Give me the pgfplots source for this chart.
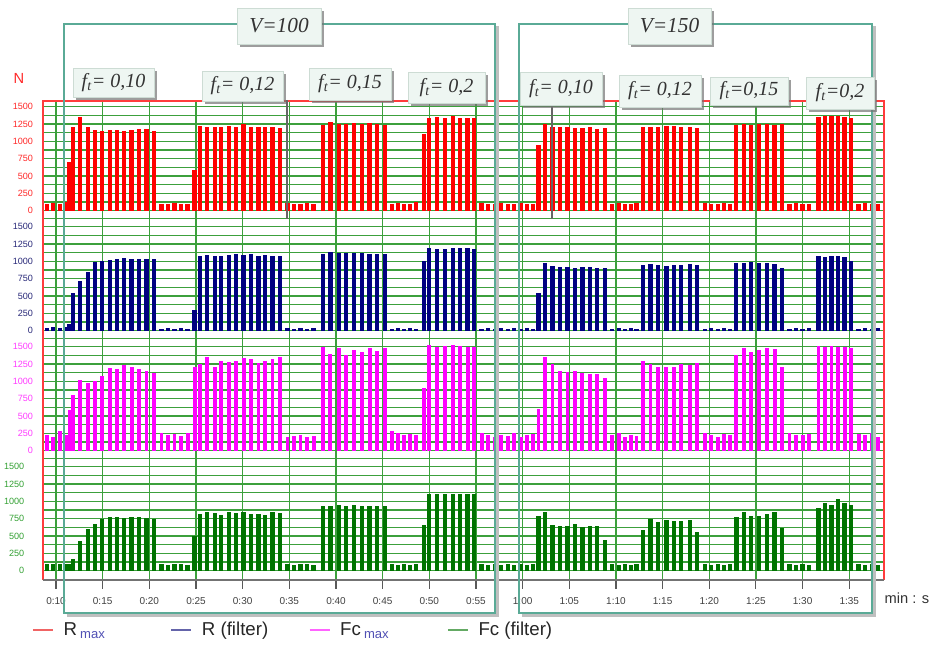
\documentclass[border=0pt]{standalone}
\usepackage{pgfplots}
\pgfplotsset{compat=1.18}
\usepackage{pgfplotstable}
\usepackage{fontspec}
\setmainfont{Liberation Sans}
\newfontfamily\tnr{Liberation Serif}
\usetikzlibrary{shadows}

\definecolor{cR}{RGB}{255,0,0}
\definecolor{cB}{RGB}{0,0,128}
\definecolor{cM}{RGB}{255,0,255}
\definecolor{cG}{RGB}{0,115,0}
\definecolor{cGrid}{RGB}{60,160,60}
\definecolor{cTeal}{RGB}{90,170,150}
\definecolor{cFrame}{RGB}{255,60,60}
\definecolor{tR}{RGB}{255,40,40}
\definecolor{tB}{RGB}{40,40,120}
\definecolor{tM}{RGB}{255,60,255}
\definecolor{tG}{RGB}{50,160,50}
\definecolor{lR}{RGB}{240,100,100}
\definecolor{lB}{RGB}{100,100,170}
\definecolor{lM}{RGB}{255,100,255}
\definecolor{lG}{RGB}{100,170,100}
\definecolor{subC}{RGB}{80,80,180}
\definecolor{boxF}{RGB}{238,246,242}
\definecolor{boxD}{RGB}{205,220,212}

% t = time in s; R = R max, Rf = R (filter), Fc = Fc max, Fcf = Fc (filter), in N
\pgfplotstableread{
t R Rf Fc Fcf
9.0 100 40 220 90
9.7 110 50 200 90
10.4 90 40 280 100
11.1 120 50 230 90
11.45 700 100 580 100
11.8 1200 550 800 170
12.6 1350 720 1020 430
13.4 1200 850 980 600
14.2 1170 990 1010 680
14.95 1150 1000 1080 750
15.75 1160 1020 1190 780
16.5 1170 1040 1180 770
17.3 1150 1050 1230 760
18.1 1160 1040 1200 770
18.9 1175 1030 1180 780
19.7 1180 1040 1150 760
20.5 1150 1030 1120 740
21.3 100 30 250 90
22.0 90 40 220 80
22.7 110 30 240 90
23.4 100 40 210 90
24.1 100 30 260 80
24.85 580 300 1200 500
25.4 1220 1080 1250 820
26.2 1200 1090 1350 850
27.0 1210 1070 1200 830
27.7 1200 1080 1300 800
28.5 1220 1090 1280 840
29.3 1200 1100 1300 830
30.1 1250 1090 1340 850
30.9 1210 1100 1320 820
31.7 1200 1080 1260 820
32.4 1210 1090 1300 810
33.2 1200 1080 1320 840
34.0 1190 1080 1350 830
34.8 110 40 200 90
35.5 100 30 210 80
36.2 90 40 230 90
36.9 110 30 200 90
37.6 100 40 210 80
38.6 1230 1110 1500 930
39.4 1280 1140 1400 940
40.3 1250 1120 1480 950
41.1 1250 1120 1380 940
41.9 1260 1120 1450 950
42.8 1250 1120 1420 940
43.6 1270 1110 1480 930
44.4 1250 1110 1440 940
45.25 1240 1100 1480 930
46.0 100 30 280 90
46.65 110 40 250 80
47.3 90 30 220 90
47.95 100 40 240 80
48.6 120 30 230 90
49.4 1100 1000 900 660
50.0 1340 1190 1520 1110
50.8 1350 1180 1500 1100
51.7 1330 1180 1510 1110
52.5 1370 1190 1520 1110
53.3 1340 1190 1510 1110
54.1 1340 1190 1500 1100
54.8 1330 1180 1500 1100
55.6 110 30 250 90
56.3 100 40 220 80
57.0 90 30 200 90
57.7 110 40 230 80
58.4 100 30 210 90
59.1 100 40 250 80
59.8 110 30 200 90
60.5 90 40 230 80
61.1 100 30 240 90
61.7 950 540 600 790
62.4 1250 970 1350 850
63.2 1200 930 1250 660
64.0 1200 920 1150 650
64.8 1200 920 1130 650
65.6 1190 910 1150 680
66.4 1190 920 1120 630
67.2 1200 920 1100 650
68.0 1180 910 1100 640
68.8 1190 900 1050 440
69.6 100 30 220 90
70.3 110 40 250 80
71.0 90 30 200 90
71.6 100 40 230 80
72.2 110 30 210 90
72.9 1200 950 1300 590
73.7 1210 960 1250 740
74.5 1200 950 1200 700
75.4 1220 940 1200 730
76.2 1220 950 1210 710
77.0 1210 950 1250 710
77.9 1200 960 1230 730
78.7 1190 950 1260 560
79.5 110 30 250 90
80.2 100 40 220 80
80.9 90 30 200 90
81.6 110 40 240 80
82.2 100 30 230 90
82.9 1240 970 1380 780
83.7 1250 980 1480 840
84.5 1240 990 1420 790
85.3 1250 980 1450 790
86.2 1250 970 1480 820
87.0 1240 960 1460 840
87.8 1250 910 1200 610
88.6 100 30 250 90
89.3 110 40 230 80
90.0 90 30 220 90
90.7 100 40 240 80
91.7 1350 1070 1510 900
92.4 1360 1060 1500 970
93.1 1370 1070 1510 950
93.8 1370 1080 1500 1030
94.5 1350 1060 1500 970
95.2 1340 1000 1480 950
96.0 100 30 240 90
96.7 110 40 220 80
97.4 90 30 250 90
98.1 100 40 200 80
}\sig

\pgfplotsset{
 panel/.style={
  scale only axis, width=630.75pt, anchor=south west,
  xmin=8.607, xmax=98.72,
  xtick={10,15,...,95},
  ytick={0,250,...,1500},
  axis line style={draw=none},
  grid=both,
  major grid style={draw=cGrid, line width=1.05pt},
  minor grid style={draw=cGrid, line width=1.05pt},
  ytick style={draw=none},
  yticklabel style={font=\fontsize{6.8}{8}\selectfont, xshift=-4pt},
  /pgf/number format/1000 sep={},
  /pgf/number format/assume math mode=true,
 },
 upper/.style={xticklabels={}, xtick style={draw=none}},
}

\tikzset{
 fbox/.style={draw=boxD, fill=boxF, line width=0.6pt, inner sep=0pt,
   drop shadow={shadow xshift=2pt, shadow yshift=-2pt, fill=black!55, opacity=0.7},
   font=\tnr\itshape\fontsize{15}{17}\selectfont, text=black!80},
}

\begin{document}
\begin{tikzpicture}
\path[use as bounding box] (0pt,0pt) rectangle (697.5pt,-483.75pt);

% R max
\begin{axis}[panel, upper, at={(32.25pt,-164.01pt)}, height=88.28pt,
  ymin=-115, ymax=1582, minor ytick={-115,125,375,625,875,1125,1375},
  yticklabel style={text=tR}]
\addplot[ycomb, draw=cR, line width=3.2pt, mark=none] table[x=t,y=R]{\sig};
\end{axis}

% R (filter)
\begin{axis}[panel, upper, at={(32.25pt,-254.01pt)}, height=90pt,
  ymin=-115, ymax=1615, minor ytick={-115,125,375,625,875,1125,1375},
  yticklabel style={text=tB}]
\addplot[ycomb, draw=cB, line width=3.2pt, mark=none] table[x=t,y=Rf]{\sig};
\end{axis}

% Fc max
\begin{axis}[panel, upper, at={(32.25pt,-344.01pt)}, height=90pt,
  ymin=-115, ymax=1615, minor ytick={-115,125,375,625,875,1125,1375},
  yticklabel style={text=tM}]
\addplot[ycomb, draw=cM, line width=2.9pt, mark=none] table[x=t,y=Fc]{\sig};
\end{axis}

% Fc (filter)
\begin{axis}[panel, at={(32.25pt,-435pt)}, height=90.99pt,
  ymin=-134, ymax=1615, minor ytick={125,375,625,875,1125,1375},
  yticklabel style={text=tG},
  xticklabels={0:10,0:15,0:20,0:25,0:30,0:35,0:40,0:45,0:50,0:55,1:00,1:05,1:10,1:15,1:20,1:25,1:30,1:35},
  xtick pos=bottom, tick align=outside, major tick length=6.5pt,
  xtick style={draw=black!65, line width=0.8pt},
  xticklabel style={font=\fontsize{7.5}{9}\selectfont, text=black!75, yshift=-2pt,
    anchor=north, text height=6pt, text depth=0pt},
  legend columns=4,
  legend image code/.code={\draw[#1] (0pt,0pt) -- (15pt,0pt);},
  legend style={draw=none, fill=none, at={(-0.0131,-0.412)}, anchor=west,
    inner sep=0pt, font=\fontsize{14}{16}\selectfont, text=black!85,
    nodes={inner sep=0pt},
    /tikz/every odd column/.append style={column sep=7.5pt},
    /tikz/every even column/.append style={column sep=0pt}},
  legend cell align=left]
\addlegendimage{draw=lR, line width=1pt}
\addlegendentry{\makebox[80.25pt][l]{R\,\textsubscript{\textcolor{subC}{max}}}}
\addlegendimage{draw=lB, line width=1pt}
\addlegendentry{\makebox[80.25pt][l]{R (filter)}}
\addlegendimage{draw=lM, line width=1pt}
\addlegendentry{\makebox[80.25pt][l]{Fc\,\textsubscript{\textcolor{subC}{max}}}}
\addlegendimage{draw=lG, line width=1pt}
\addlegendentry{\makebox[80.25pt][l]{Fc (filter)}}
\addplot[ycomb, draw=cG, line width=3.2pt, mark=none, forget plot] table[x=t,y=Fcf]{\sig};
\end{axis}

\begin{scope}[x=0.75pt, y=-0.75pt]
 % frame
 \draw[cFrame, line width=0.8pt] (43,580) -- (43,101) -- (884,101) -- (884,580);
 \draw[black!55, line width=0.8pt] (43,580) -- (884,580);
 % teal brackets with soft shadow
 \draw[black!25, line width=1.6pt] (66.5,615.5) -- (497.5,615.5) -- (497.5,26.5);
 \draw[black!25, line width=1.6pt] (521.5,615.5) -- (874.5,615.5) -- (874.5,26.5);
 \draw[cTeal, line width=1pt] (64,24) rectangle (495,613);
 \draw[cTeal, line width=1pt] (519,24) rectangle (872,613);
 % pointers
 \draw[black!60, line width=1pt] (287,100) -- (287,219);
 \draw[black!60, line width=1pt] (552,105) -- (552,219);
 % labels
 \node[fbox, minimum width=63pt, minimum height=27pt, font=\tnr\itshape\fontsize{16}{18}\selectfont] at (279,26) {V=100};
 \node[fbox, minimum width=62.25pt, minimum height=27pt, font=\tnr\itshape\fontsize{16}{18}\selectfont] at (669.5,26) {V=150};
 \node[fbox, minimum width=60.75pt, minimum height=21.75pt] at (113.5,82.5) {f\textsubscript{t}= 0,10};
 \node[fbox, minimum width=60.75pt, minimum height=22.5pt] at (242.5,86) {f\textsubscript{t}= 0,12};
 \node[fbox, minimum width=61.5pt, minimum height=24pt] at (350,84) {f\textsubscript{t}= 0,15};
 \node[fbox, minimum width=57.75pt, minimum height=23.25pt] at (446.5,87.5) {f\textsubscript{t}= 0,2};
 \node[fbox, minimum width=61.5pt, minimum height=24.75pt] at (561,88.5) {f\textsubscript{t}= 0,10};
 \node[fbox, minimum width=61.5pt, minimum height=24pt] at (660,91) {f\textsubscript{t}= 0,12};
 \node[fbox, minimum width=58.5pt, minimum height=21pt] at (749,91) {f\textsubscript{t}=0,15};
 \node[fbox, minimum width=51pt, minimum height=24pt] at (840,93) {f\textsubscript{t}=0,2};
 % axis names
 \node[text=tR, font=\fontsize{11}{13}\selectfont] at (19,78) {N};
 \node[text=black!80, font=\fontsize{11}{13}\selectfont] at (907,598) {min : s};
\end{scope}
\end{tikzpicture}
\end{document}
